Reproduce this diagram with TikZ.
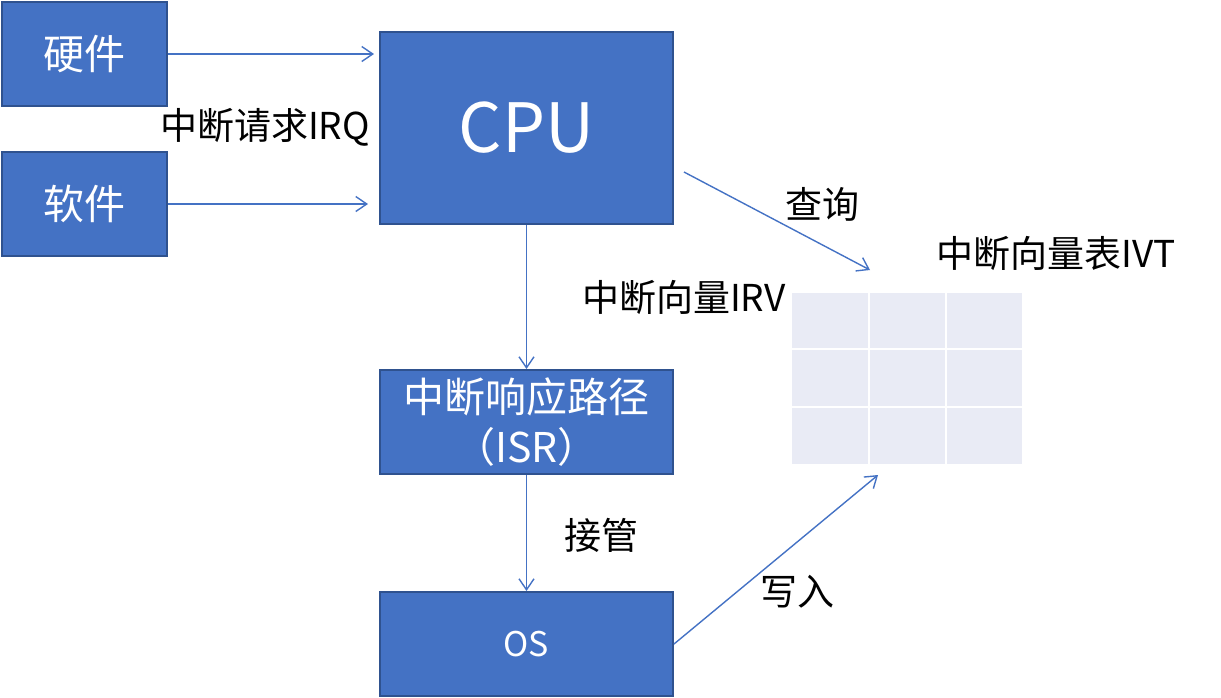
\documentclass[tikz,border=0pt]{standalone}
\usepackage{fontspec}
\setmainfont{Noto Sans CJK SC}
\usetikzlibrary{arrows.meta}
\definecolor{boxblue}{HTML}{4472C4}
\definecolor{boxedge}{HTML}{2F528F}
\definecolor{cellfill}{HTML}{E9EBF5}
\begin{document}
\begin{tikzpicture}[x=1pt,y=-1pt,
  box/.style={draw=boxedge, line width=2pt, fill=boxblue, text=white, inner sep=0pt, anchor=north west, align=center},
  conn/.style={draw=boxblue, line width=1.4pt, -{Straight Barb[length=11pt,width=15pt,line width=1.4pt]}},
  lbl/.style={font=\fontsize{37}{42}\selectfont, inner sep=0pt}]
\useasboundingbox (0,0) rectangle (1221,697);
% boxes
\node[box, minimum width=165pt, minimum height=104pt, font=\fontsize{41}{46}\selectfont] (hw) at (1,1) {硬件};
\node[box, minimum width=165pt, minimum height=104pt, font=\fontsize{41}{46}\selectfont] (sw) at (1,151) {软件};
\node[box, minimum width=293pt, minimum height=192pt, font=\fontsize{68}{74}\selectfont] (cpu) at (379,31) {CPU};
\node[box, minimum width=293pt, minimum height=104pt, font=\fontsize{41}{50}\selectfont] (isr) at (379,369) {中断响应路径\\（ISR）};
\node[box, minimum width=293pt, minimum height=104pt, font=\fontsize{34}{40}\selectfont] (os) at (379,591) {OS};
% table
\fill[cellfill] (792,293) rectangle (1022,464);
\draw[white, line width=2pt] (869,293) -- (869,464) (946,293) -- (946,464)
  (792,349) -- (1022,349) (792,407) -- (1022,407);
\node[inner sep=0pt, minimum width=230pt, minimum height=171pt, anchor=north west] (ivt) at (792,293) {};
% coordinates
\coordinate (q1) at (684,172);
\coordinate (q2) at (870,270);
\coordinate (w2) at (878,475);
% connectors
\draw[conn, shorten >=5pt] (hw.east) -- (hw.east -| cpu.west);
\draw[conn, shorten >=11pt] (sw.east) -- (sw.east -| cpu.west);
\draw[conn] (cpu.south) -- (isr.north);
\draw[conn] (isr.south) -- (os.north);
\draw[conn] (q1) -- (q2);
\draw[conn] (os.east) -- (w2);
% labels
\node[lbl] (irq) at (265,127) {中断请求IRQ};
\node[lbl] (cx) at (822,204) {查询};
\node[lbl] (ivtl) at (1056,253) {中断向量表IVT};
\node[lbl] (irv) at (684,297) {中断向量IRV};
\node[lbl] (jg) at (601,535) {接管};
\node[lbl] (xr) at (797,592) {写入};
\end{tikzpicture}
\end{document}
